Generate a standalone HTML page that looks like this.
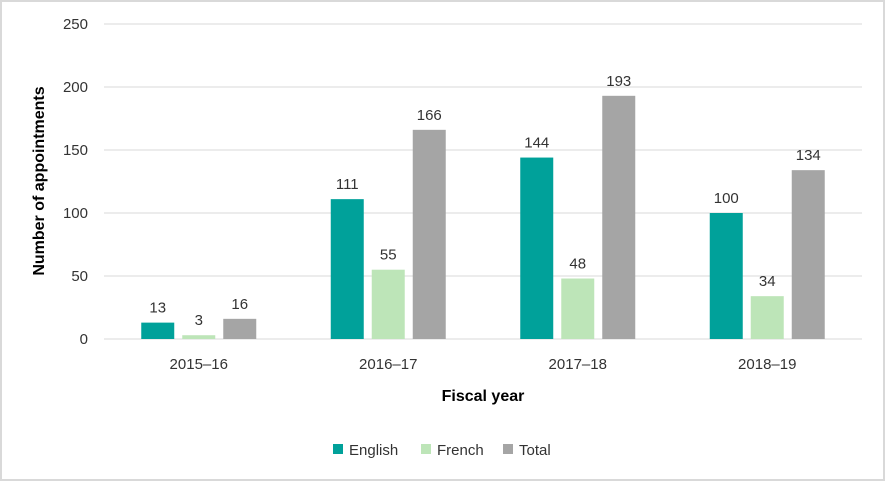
<!DOCTYPE html>
<html><head><meta charset="utf-8"><style>
body{margin:0;background:#fff}
svg{display:block;font-family:"Liberation Sans",sans-serif}
</style></head><body>
<svg id="c" width="885" height="481">
<rect x="1" y="1" width="883" height="479" fill="#fff" stroke="#d9d9d9" stroke-width="2"/>
<g id="grid"></g><g id="bars"></g><g id="labels"></g>
<text x="44" y="181" transform="rotate(-90 44 181)" text-anchor="middle" font-size="16" font-weight="bold" fill="#000">Number of appointments</text>
<text x="483" y="401" text-anchor="middle" font-size="16" font-weight="bold" fill="#000">Fiscal year</text>
<g>
<g><rect x="333" y="444" width="10" height="10" fill="#00A19A"/><text x="349" y="455" font-size="15" fill="#333">English</text></g>
<g><rect x="421" y="444" width="10" height="10" fill="#BDE5B8"/><text x="437" y="455" font-size="15" fill="#333">French</text></g>
<g><rect x="503" y="444" width="10" height="10" fill="#A5A5A5"/><text x="519" y="455" font-size="15" fill="#333">Total</text></g>
</g>
</svg>
<script>
const categories=["2015–16","2016–17","2017–18","2018–19"];
const english=[13,111,144,100];
const french=[3,55,48,34];
const total=[16,166,193,134];
const yTicks=[0,50,100,150,200,250];
const NS="http://www.w3.org/2000/svg";
const L=104,R=862,Y0=339,Y1=24,MAX=250;
const y=v=>Y0-(Y0-Y1)*v/MAX;
const cx=i=>L+(R-L)/categories.length*(i+0.5);
function mk(t,a,p){const e=document.createElementNS(NS,t);for(const k in a)e.setAttribute(k,a[k]);p.appendChild(e);return e;}
const g=document.getElementById('grid'),b=document.getElementById('bars'),lb=document.getElementById('labels');
yTicks.forEach(t=>{
 const l=mk('line',{x1:L,x2:R,y1:y(t),y2:y(t),stroke:'#d9d9d9','stroke-width':1},g);
 
 
 const tx=mk('text',{x:88,y:y(t)+5,'text-anchor':'end','font-size':15,fill:'#333'},g);
 tx.textContent=t;
 
 
});
const series=[[english,'#00A19A',-41,'english'],[french,'#BDE5B8',0,'french'],[total,'#A5A5A5',41,'total']];
categories.forEach((c,i)=>{
 const tx=mk('text',{x:cx(i),y:369,'text-anchor':'middle','font-size':15,fill:'#333'},lb);
 tx.textContent=c;
 
 
 series.forEach(([d,col,off,nm])=>{
  const x=cx(i)+off-16.5;
  const r=mk('rect',{x:x,y:y(d[i]),width:33,height:Y0-y(d[i]),fill:col},b);
  
  
  const t=mk('text',{x:x+16.5,y:y(d[i])-10,'text-anchor':'middle','font-size':15,fill:'#333'},lb);
  t.textContent=d[i];
  
  
 });
});
</script>
</body></html>
